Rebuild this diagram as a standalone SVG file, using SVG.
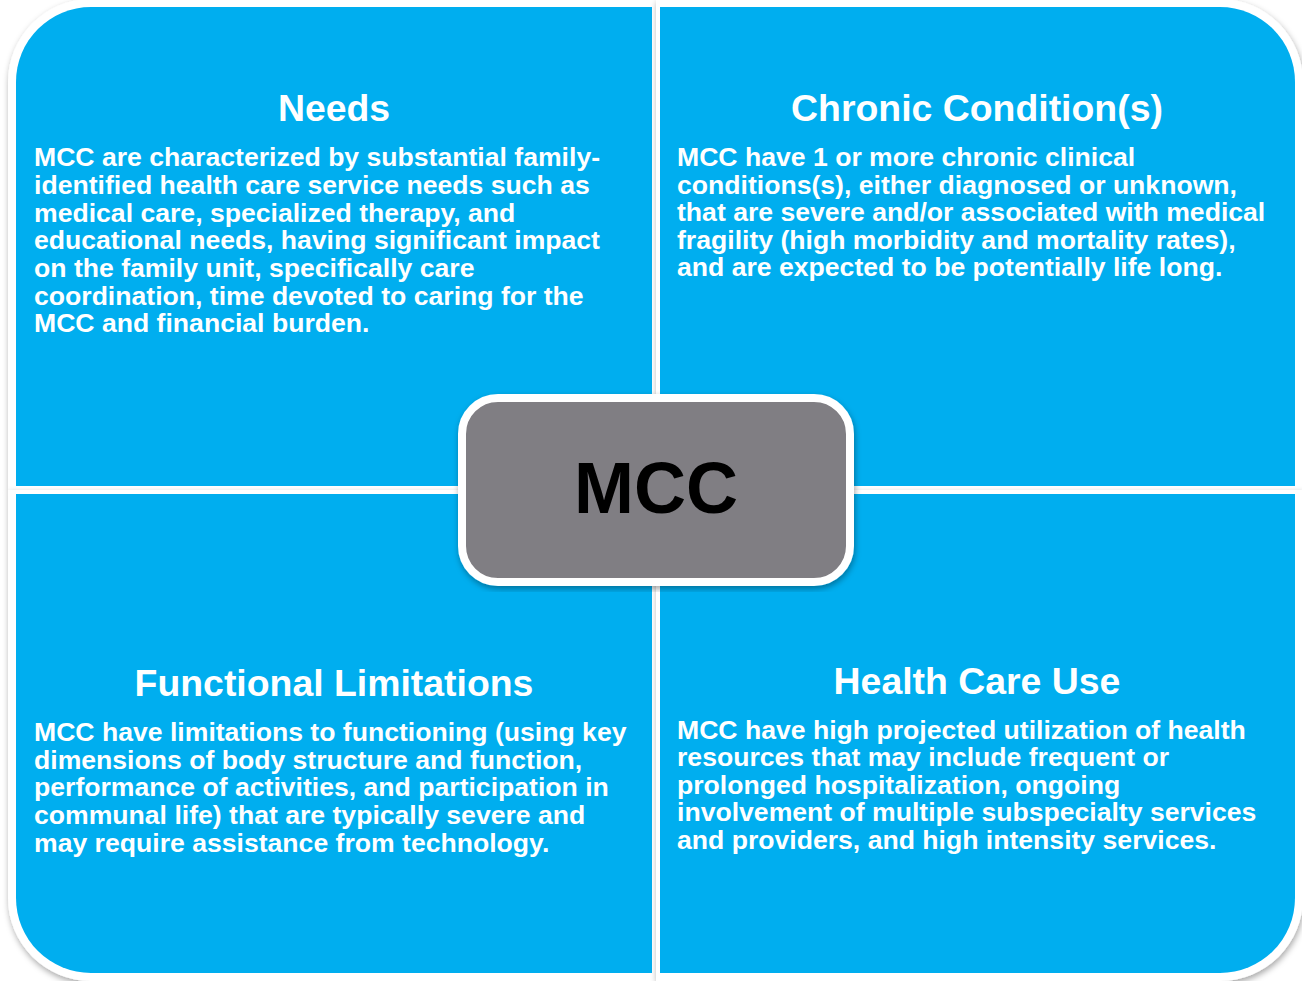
<svg xmlns="http://www.w3.org/2000/svg" width="1302" height="981" viewBox="0 0 1302 981">
<defs>
<filter id="sh" x="-5%" y="-5%" width="110%" height="110%">
<feDropShadow dx="1" dy="3" stdDeviation="3" flood-color="#000" flood-opacity="0.35"/>
</filter>
<style>
.w{fill:#fff;filter:url(#sh)}
.b{fill:#00aeef}
.t{font-family:"Liberation Sans",Arial,sans-serif;font-weight:bold;fill:#fff;font-size:37.4px;text-anchor:middle}
.p{font-family:"Liberation Sans",Arial,sans-serif;font-weight:bold;fill:#fff;font-size:26.6px}
.c{font-family:"Liberation Sans",Arial,sans-serif;font-weight:bold;fill:#000;font-size:72px;text-anchor:middle}
</style>
</defs>
<rect width="1302" height="981" fill="#fff"/>
<g id="needs">
<path class="w" d="M8,490 V82 A83,83 0 0 1 91,-1 H656 V490 Z"/>
<path class="b" d="M16,486 V82 A75,75 0 0 1 91,7 H652 V486 Z"/>
<text class="t" x="334" y="121">Needs</text>
<text class="p">
<tspan x="34" y="166">MCC are characterized by substantial family-</tspan>
<tspan x="34" y="194">identified health care service needs such as</tspan>
<tspan x="34" y="222">medical care, specialized therapy, and</tspan>
<tspan x="34" y="249">educational needs, having significant impact</tspan>
<tspan x="34" y="277">on the family unit, specifically care</tspan>
<tspan x="34" y="305">coordination, time devoted to caring for the</tspan>
<tspan x="34" y="332">MCC and financial burden.</tspan>
</text>
</g>
<g id="chronic">
<path class="w" d="M656,-1 H1220 A83,83 0 0 1 1303,82 V490 H656 Z"/>
<path class="b" d="M660,7 H1220 A75,75 0 0 1 1295,82 V486 H660 Z"/>
<text class="t" x="977" y="121">Chronic Condition(s)</text>
<text class="p">
<tspan x="677" y="166">MCC have 1 or more chronic clinical</tspan>
<tspan x="677" y="194">conditions(s), either diagnosed or unknown,</tspan>
<tspan x="677" y="221">that are severe and/or associated with medical</tspan>
<tspan x="677" y="249">fragility (high morbidity and mortality rates),</tspan>
<tspan x="677" y="276">and are expected to be potentially life long.</tspan>
</text>
</g>
<g id="functional">
<path class="w" d="M8,490 H656 V981 H91 A83,83 0 0 1 8,898 Z"/>
<path class="b" d="M16,494 H652 V973 H91 A75,75 0 0 1 16,898 Z"/>
<text class="t" x="334" y="696">Functional Limitations</text>
<text class="p">
<tspan x="34" y="741">MCC have limitations to functioning (using key</tspan>
<tspan x="34" y="769">dimensions of body structure and function,</tspan>
<tspan x="34" y="796">performance of activities, and participation in</tspan>
<tspan x="34" y="824">communal life) that are typically severe and</tspan>
<tspan x="34" y="852">may require assistance from technology.</tspan>
</text>
</g>
<g id="healthcare">
<path class="w" d="M656,490 H1303 V898 A83,83 0 0 1 1220,981 H656 Z"/>
<path class="b" d="M660,494 H1295 V898 A75,75 0 0 1 1220,973 H660 Z"/>
<text class="t" x="977" y="694">Health Care Use</text>
<text class="p">
<tspan x="677" y="739">MCC have high projected utilization of health</tspan>
<tspan x="677" y="766">resources that may include frequent or</tspan>
<tspan x="677" y="794">prolonged hospitalization, ongoing</tspan>
<tspan x="677" y="821">involvement of multiple subspecialty services</tspan>
<tspan x="677" y="849">and providers, and high intensity services.</tspan>
</text>
</g>
<g id="connectors"/>
<g id="mcc">
<rect x="462" y="398" width="388" height="184" rx="36" fill="#807e83" stroke="#fff" stroke-width="8" filter="url(#sh)"/>
<text class="c" x="656" y="513">MCC</text>
</g>
</svg>
